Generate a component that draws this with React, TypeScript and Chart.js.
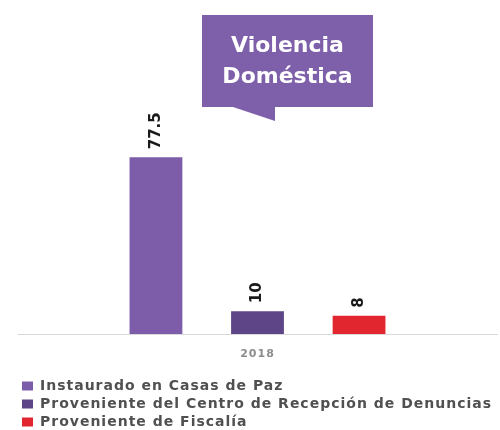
import React, { useEffect, useRef } from "react";
import { Chart, registerables } from "chart.js";

Chart.register(...registerables);

const categories = ["2018"];
const seriesNames = [
  "Instaurado en Casas de Paz",
  "Proveniente del Centro de Recepción de Denuncias",
  "Proveniente de Fiscalía",
];
const instauradoValues = [77.5];
const centroRecepcionValues = [10];
const fiscaliaValues = [8];
const seriesColors = ["#7D5DA9", "#5E4587", "#E1262F"];
const calloutLines = ["Violencia", "Doméstica"];
const yMax = 100;

const spacingPlugin = {
  id: "spacing",
  beforeDraw(chart: any) {
    (chart.ctx as any).letterSpacing = "1px";
  },
  afterDraw(chart: any) {
    (chart.ctx as any).letterSpacing = "0px";
  },
};

const valueLabelsPlugin = {
  id: "valueLabels",
  afterDatasetsDraw(chart: any) {
    const ctx = chart.ctx;
    chart.data.datasets.forEach((ds: any, i: number) => {
      const meta = chart.getDatasetMeta(i);
      meta.data.forEach((el: any, j: number) => {
        const v = ds.data[j];
        ctx.save();
        (ctx as any).letterSpacing = "0px";
        ctx.translate(el.x, el.y - 8);
        ctx.rotate(-Math.PI / 2);
        ctx.font = 'bold 15px "DejaVu Sans"';
        ctx.fillStyle = "#1a1a1a";
        ctx.textAlign = "left";
        ctx.textBaseline = "middle";
        ctx.fillText(String(v), 0, 0);
        ctx.restore();
      });
    });
  },
};

const calloutPlugin = {
  id: "callout",
  afterDraw(chart: any) {
    const ctx = chart.ctx;
    const left = 202;
    const top = 15;
    const right = 373;
    const bottom = 107;
    ctx.save();
    (ctx as any).letterSpacing = "0px";
    ctx.fillStyle = "#7E5FAA";
    ctx.beginPath();
    ctx.moveTo(left, top);
    ctx.lineTo(right, top);
    ctx.lineTo(right, bottom);
    ctx.lineTo(275, bottom);
    ctx.lineTo(275, 121);
    ctx.lineTo(233, bottom);
    ctx.lineTo(left, bottom);
    ctx.closePath();
    ctx.fill();
    ctx.fillStyle = "#ffffff";
    ctx.font = 'bold 22px "DejaVu Sans"';
    ctx.textAlign = "center";
    ctx.textBaseline = "middle";
    const cx = (left + right) / 2;
    ctx.fillText(calloutLines[0], cx, 46);
    ctx.fillText(calloutLines[1], cx, 77);
    ctx.restore();
  },
};

export default function App() {
  const canvasRef = useRef<HTMLCanvasElement | null>(null);

  useEffect(() => {
    if (!canvasRef.current) return;
    const chart = new Chart(canvasRef.current, {
      type: "bar",
      data: {
        labels: categories,
        datasets: [
          { label: seriesNames[0], data: instauradoValues, backgroundColor: seriesColors[0] },
          { label: seriesNames[1], data: centroRecepcionValues, backgroundColor: seriesColors[1] },
          { label: seriesNames[2], data: fiscaliaValues, backgroundColor: seriesColors[2] },
        ],
      },
      options: {
        animation: false,
        responsive: true,
        maintainAspectRatio: false,
        events: [],
        layout: { padding: { top: 106, left: 18, right: 3, bottom: 1 } },
        datasets: {
          bar: { barPercentage: 0.52, categoryPercentage: 0.636 },
        },
        scales: {
          x: {
            grid: { display: false, drawTicks: false },
            border: { display: true, color: "#d9d9d9", width: 1 },
            ticks: {
              color: "#8c8c8c",
              font: { family: "DejaVu Sans", size: 11, weight: "bold" },
              padding: 14,
            },
            afterFit: (scale: any) => {
              scale.height = 41;
            },
          },
          y: {
            display: false,
            min: 0,
            max: yMax,
          },
        },
        plugins: {
          legend: {
            position: "bottom",
            align: "start",
            labels: {
              boxWidth: 11,
              boxHeight: 9,
              padding: 4,
              color: "#505050",
              font: { family: "DejaVu Sans", size: 14, weight: "bold" },
            },
          },
          tooltip: { enabled: false },
          title: { display: false },
        },
      },
      plugins: [spacingPlugin, valueLabelsPlugin, calloutPlugin],
    });
    return () => chart.destroy();
  }, []);

  return (
    <div style={{ position: "absolute", left: 0, top: 0, width: 500, height: 430, overflow: "hidden", background: "#fff" }}>
      <div style={{ position: "relative", width: 500, height: 440 }}>
        <canvas ref={canvasRef} />
      </div>
    </div>
  );
}
